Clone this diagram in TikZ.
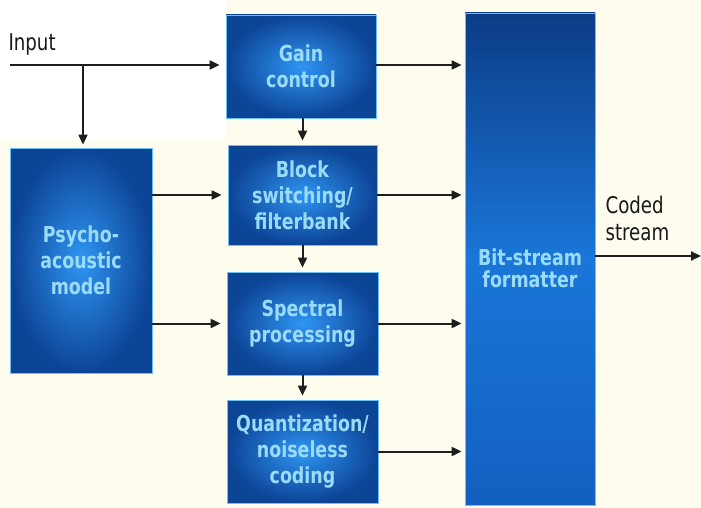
\documentclass[tikz,border=0pt]{standalone}
\usepackage{fontspec}
\setmainfont{DejaVu Sans Condensed}
\newfontfamily\condfont[FakeStretch=0.88]{DejaVu Sans Condensed}
\usetikzlibrary{arrows.meta}
\definecolor{bgcream}{HTML}{FDFCEF}
\definecolor{boxin}{HTML}{2F95F2}
\definecolor{boxout}{HTML}{0C4496}
\definecolor{fmttop}{HTML}{0B3C86}
\definecolor{fmtmid}{HTML}{1A76D8}
\definecolor{fmtbot}{HTML}{1260C0}
\definecolor{boxtext}{HTML}{9ADCF8}
\definecolor{boxedge}{HTML}{6CC0F2}
\definecolor{linecol}{HTML}{1E1E1E}
\tikzset{
  blockbox/.style={rectangle, inner color=boxin, outer color=boxout, draw=boxedge, line width=0.8pt,
    text=boxtext, align=center, font=\condfont\fontsize{22}{26}\selectfont\bfseries},
  conn/.style={draw=linecol, line width=2pt, -{Triangle[length=10pt,width=9pt]}},
  plain/.style={text=black!90, align=left, font=\condfont\fontsize{23}{27}\selectfont}
}
\begin{document}
\begin{tikzpicture}[x=1pt,y=-1pt]
\useasboundingbox (0,0) rectangle (701,508);
\fill[bgcream] (0,0) rectangle (701,508);
\fill[white] (0,0) rectangle (226,140);
% blocks
\node[blockbox, minimum width=150pt, minimum height=103pt] (gain) at (301,66.5) {Gain\\control};
\node[blockbox, minimum width=149pt, minimum height=100pt] (block) at (302.5,195) {Block\\switching/\\filterbank};
\node[blockbox, minimum width=151pt, minimum height=103pt] (spec) at (302.5,323.5) {Spectral\\processing};
\node[blockbox, minimum width=151pt, minimum height=103pt] (quant) at (302.5,451.5) {Quantization/\\noiseless\\coding};
\node[blockbox, minimum width=142pt, minimum height=225pt] (psy) at (81,260.5) {Psycho-\\acoustic\\model};
\node[rectangle, top color=fmttop, bottom color=fmtbot, middle color=fmtmid, draw=boxedge, line width=0.8pt,
  minimum width=130pt, minimum height=492pt] (fmt) at (530,259) {};
\node[text=boxtext, align=center, font=\condfont\fontsize{22}{22}\selectfont\bfseries] (fmttext) at (530,268) {Bit-stream\\formatter};
% labels
\node[plain, anchor=west] (inlabel) at (5,45) {Input};
\node[plain, anchor=west] (coded) at (602,218) {Coded\\stream};
% coordinates
\coordinate (in) at (10,65);
\coordinate (br) at (83,65);
\coordinate (out) at (701,256);
% connectors
\draw[conn, shorten >=6pt] (in) -- (in -| gain.west);
\draw[conn, shorten >=3pt] (br) -- (br |- psy.north);
\draw[conn, shorten >=3pt] (gain.east |- in) -- (in -| fmt.west);
\draw[conn, shorten >=3pt] (block.east) -- (block.east -| fmt.west);
\draw[conn, shorten >=3pt] (spec.east) -- (spec.east -| fmt.west);
\draw[conn, shorten >=3pt] (quant.east) -- (quant.east -| fmt.west);
\draw[conn, shorten >=6pt] (psy.east |- block.west) -- (block.west);
\draw[conn, shorten >=6pt] (psy.east |- spec.west) -- (spec.west);
\draw[conn, shorten >=4pt] (gain.south -| block.north) -- (block.north);
\draw[conn, shorten >=4pt] (block.south) -- (spec.north);
\draw[conn, shorten >=4pt] (spec.south) -- (quant.north);
\draw[conn] (out -| fmt.east) -- (out);
\end{tikzpicture}
\end{document}
